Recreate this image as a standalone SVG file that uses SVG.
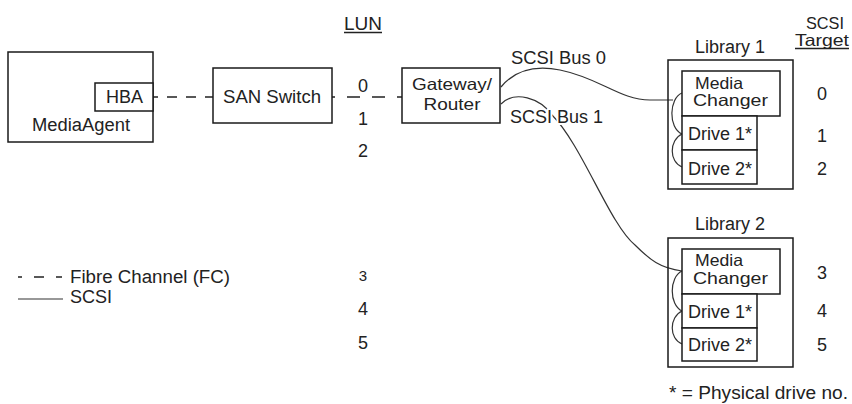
<svg xmlns="http://www.w3.org/2000/svg" width="852" height="404" viewBox="0 0 852 404">
<style>
text{font-family:"Liberation Sans",Arial,sans-serif;font-size:18px;fill:#222}
.m{text-anchor:middle}
.s{font-size:16.5px}
.box{fill:#fff;stroke:#1a1a1a;stroke-width:1.5}
.frame{fill:none;stroke:#1a1a1a;stroke-width:1.5}
.fc{stroke:#222;stroke-width:1.4;fill:none}
.scsi{stroke:#333;stroke-width:1.2;fill:none}
.ul{stroke:#222;stroke-width:1.3}
.halo{stroke:#fff;stroke-width:4;paint-order:stroke;stroke-linejoin:round}
</style>
<rect width="852" height="404" fill="#fff"/>
<g id="connectors">
<line class="fc" x1="153" y1="97" x2="213" y2="97" stroke-dasharray="10 9" stroke-dashoffset="5"/>
<line class="fc" x1="332" y1="97" x2="402" y2="97" stroke-dasharray="13 12" stroke-dashoffset="10"/>
<path class="scsi" d="M501,87 C515,70 535,65 560,70 C600,78 620,100 650,100 L673,100"/>
<path class="scsi" d="M682,93 C669,98 668,128 682,134"/>
<path class="scsi" d="M682,134 C669,140 669,162 682,167"/>
<path class="scsi" d="M501,104 C515,90 540,98 552,115 C582,145 610,225 635,245 C650,260 660,268 682,271"/>
<path class="scsi" d="M682,271 C669,277 669,305 682,311"/>
<path class="scsi" d="M682,311 C669,317 669,339 682,344"/>
</g>
<g id="mediaagent">
<rect class="box" x="8" y="52" width="145" height="90"/>
<text x="32" y="131" textLength="98" lengthAdjust="spacingAndGlyphs">MediaAgent</text>
</g>
<g id="hba">
<rect class="box" x="95" y="83" width="58" height="28"/>
<text x="106" y="103">HBA</text>
</g>
<g id="san-switch">
<rect class="box" x="213" y="68" width="119" height="55"/>
<text x="223" y="103" textLength="98" lengthAdjust="spacingAndGlyphs">SAN Switch</text>
</g>
<g id="gateway">
<rect class="box" x="402" y="68" width="98" height="55"/>
<text class="m s" x="452" y="90" textLength="80" lengthAdjust="spacingAndGlyphs">Gateway/</text>
<text class="m s" x="452" y="110" textLength="57" lengthAdjust="spacingAndGlyphs">Router</text>
</g>
<g id="bus-labels">
<text x="511" y="64" textLength="95" lengthAdjust="spacingAndGlyphs">SCSI Bus 0</text>
<text class="halo" x="510" y="123" textLength="93" lengthAdjust="spacingAndGlyphs">SCSI Bus 1</text>
</g>
<g id="lun">
<text x="344" y="30" textLength="38" lengthAdjust="spacingAndGlyphs">LUN</text>
<line class="ul" x1="344" y1="32.5" x2="382" y2="32.5"/>
<text class="m halo" x="363" y="92">0</text>
<text class="m" x="363" y="125">1</text>
<text class="m" x="363" y="157">2</text>
<text class="m" x="363" y="281" style="font-size:15px">3</text>
<text class="m" x="363" y="315">4</text>
<text class="m" x="363" y="349">5</text>
</g>
<g id="target">
<text class="m s" x="825" y="29" textLength="38" lengthAdjust="spacingAndGlyphs">SCSI</text>
<text class="m s" x="822" y="46" textLength="54" lengthAdjust="spacingAndGlyphs">Target</text>
<line class="ul" x1="795" y1="48.5" x2="849" y2="48.5"/>
<text class="m" x="822" y="100">0</text>
<text class="m" x="822" y="142">1</text>
<text class="m" x="822" y="175">2</text>
<text class="m" x="822" y="279">3</text>
<text class="m" x="822" y="317">4</text>
<text class="m" x="822" y="351">5</text>
</g>
<g id="library1">
<text x="695" y="53">Library 1</text>
<rect class="frame" x="668" y="60" width="125" height="129"/>
<g id="lib1-media-changer">
<rect class="box" x="682" y="71" width="98" height="45"/>
<text class="s" x="695" y="89" textLength="48" lengthAdjust="spacingAndGlyphs">Media</text>
<text class="s" x="693" y="106" textLength="75" lengthAdjust="spacingAndGlyphs">Changer</text>
</g>
<g id="lib1-drive1">
<rect class="box" x="682" y="116" width="75" height="34"/>
<text x="688" y="140">Drive 1*</text>
</g>
<g id="lib1-drive2">
<rect class="box" x="682" y="150" width="75" height="34"/>
<text x="688" y="175">Drive 2*</text>
</g>
</g>
<g id="library2">
<text x="695" y="230">Library 2</text>
<rect class="frame" x="668" y="238" width="125" height="129"/>
<g id="lib2-media-changer">
<rect class="box" x="682" y="249" width="98" height="45"/>
<text class="s" x="695" y="266" textLength="48" lengthAdjust="spacingAndGlyphs">Media</text>
<text class="s" x="693" y="284" textLength="75" lengthAdjust="spacingAndGlyphs">Changer</text>
</g>
<g id="lib2-drive1">
<rect class="box" x="682" y="294" width="75" height="34"/>
<text x="688" y="318">Drive 1*</text>
</g>
<g id="lib2-drive2">
<rect class="box" x="682" y="328" width="75" height="33"/>
<text x="688" y="351">Drive 2*</text>
</g>
</g>
<g id="legend">
<line class="fc" x1="18" y1="277" x2="62" y2="277" stroke-dasharray="10 12" stroke-dashoffset="6"/>
<text x="70" y="283" textLength="160" lengthAdjust="spacingAndGlyphs">Fibre Channel (FC)</text>
<line class="scsi" x1="18" y1="299" x2="63" y2="299" stroke-width="1.4"/>
<text x="70" y="303">SCSI</text>
</g>
<g id="footnote">
<text x="669" y="399" textLength="179" lengthAdjust="spacingAndGlyphs">* = Physical drive no.</text>
</g>
</svg>
